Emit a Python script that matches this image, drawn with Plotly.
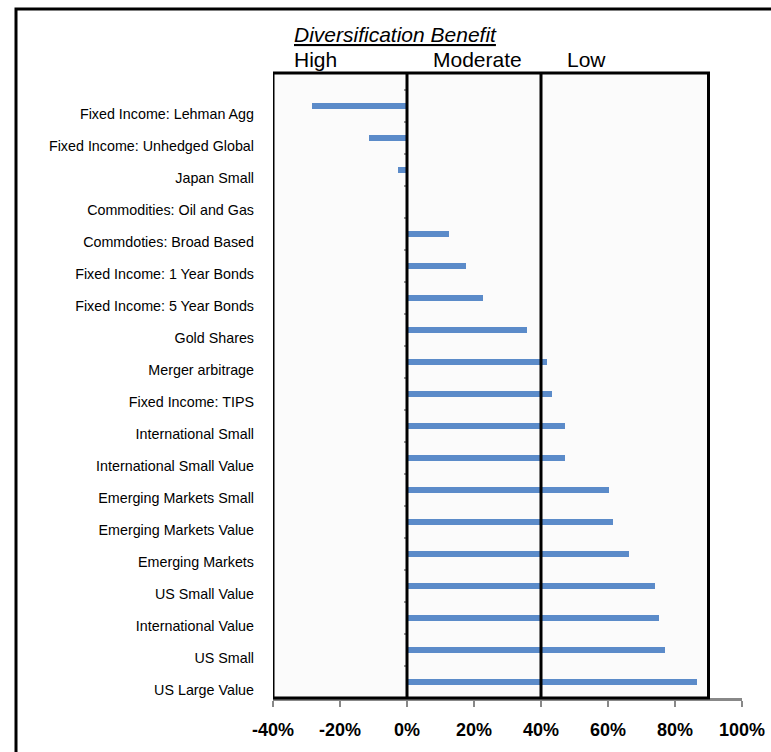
import plotly.graph_objects as go

categories = [
    "Fixed Income: Lehman Agg",
    "Fixed Income: Unhedged Global",
    "Japan Small",
    "Commodities: Oil and Gas",
    "Commdoties: Broad Based",
    "Fixed Income: 1 Year Bonds",
    "Fixed Income: 5 Year Bonds",
    "Gold Shares",
    "Merger arbitrage",
    "Fixed Income: TIPS",
    "International Small",
    "International Small Value",
    "Emerging Markets Small",
    "Emerging Markets Value",
    "Emerging Markets",
    "US Small Value",
    "International Value",
    "US Small",
    "US Large Value",
]
correlation = [-0.283, -0.112, -0.028, 0.0, 0.124, 0.177, 0.228, 0.359, 0.419,
               0.434, 0.471, 0.473, 0.604, 0.614, 0.664, 0.741, 0.753, 0.770, 0.866]
x_ticks = [-0.4, -0.2, 0.0, 0.2, 0.4, 0.6, 0.8, 1.0]
x_tick_text = ["-40%", "-20%", "0%", "20%", "40%", "60%", "80%", "100%"]
zone_bounds = [-0.4, 0.0, 0.4, 0.9]
zone_labels = ["High", "Moderate", "Low"]

W, H = 771, 752
L, R = 273, 742
T, B = 90, 698
pw, ph = R - L, B - T


def px(xp):
    return (xp - L) / pw


def py(yp):
    return 1 + (T - yp) / ph


n = len(categories)
y_range = [n - 1 + 0.262, -0.737]

fig = go.Figure()
fig.add_trace(go.Bar(
    x=correlation, y=categories, orientation="h",
    width=0.2, offset=-0.335,
    marker=dict(color="#5587c6", line=dict(width=0),
                pattern=dict(shape=".", fillmode="overlay", fgcolor="#6f9ad2",
                             size=2, solidity=0.5)),
    hoverinfo="x+y", showlegend=False,
))

shapes = []
shapes.append(dict(type="rect", xref="x", yref="paper", x0=zone_bounds[0], x1=zone_bounds[-1],
                   y0=0, y1=py(73), fillcolor="#fbfbfb", line=dict(width=0), layer="below"))
shapes.append(dict(type="rect", xref="x", yref="paper", x0=zone_bounds[0], x1=zone_bounds[-1],
                   y0=0, y1=py(73), line=dict(color="black", width=3), layer="above"))
for xb in zone_bounds[1:-1]:
    shapes.append(dict(type="line", xref="x", yref="paper", x0=xb, x1=xb, y0=0, y1=py(73),
                       line=dict(color="black", width=3), layer="above"))
shapes.append(dict(type="rect", xref="paper", yref="paper", x0=px(16), x1=px(800),
                   y0=py(800), y1=py(9), line=dict(color="black", width=3), layer="above"))

font_hdr = dict(family="Arial, Liberation Sans", size=21, color="black")
annotations = [
    dict(text="<i><u>Diversification Benefit</u></i>", xref="paper", yref="paper",
         x=px(292), y=py(34), xanchor="left", yanchor="middle", showarrow=False,
         font=font_hdr),
]
label_x = [292, 431, 565]
for lx, lab in zip(label_x, zone_labels):
    annotations.append(dict(text=lab, xref="paper", yref="paper", x=px(lx), y=py(60),
                            xanchor="left", yanchor="middle", showarrow=False, font=font_hdr))

fig.update_layout(
    width=W, height=H,
    margin=dict(l=L, r=W - R, t=T, b=H - B, pad=0, autoexpand=False),
    paper_bgcolor="white", plot_bgcolor="rgba(0,0,0,0)",
    shapes=shapes, annotations=annotations,
    bargap=0,
    xaxis=dict(range=[-0.4, 1.0], tickvals=x_ticks, ticktext=x_tick_text, automargin=False,
               showgrid=False, zeroline=False, showline=True, linecolor="#888888",
               linewidth=3, ticks="outside", ticklen=6, tickwidth=2, tickcolor="#888888",
               ticklabelstandoff=7,
               tickfont=dict(family="Arial, Liberation Sans", size=18, color="black", weight="bold")),
    yaxis=dict(range=y_range, showgrid=False, zeroline=False, showline=False, ticks="",
               ticklabelstandoff=18, automargin=False,
               tickfont=dict(family="Arial, Liberation Sans", size=14.3, color="black")),
    yaxis2=dict(overlaying="y", anchor="free", position=px(407.3), range=y_range,
                tickvals=[i + 0.262 for i in range(-1, n)], showticklabels=False,
                ticks="outside", ticklen=3, tickwidth=2, tickcolor="#999999", automargin=False,
                showgrid=False, zeroline=False, showline=False),
)
fig.add_trace(go.Scatter(x=[None], y=[None], yaxis="y2", showlegend=False, hoverinfo="skip"))
fig.write_html("out.html")
